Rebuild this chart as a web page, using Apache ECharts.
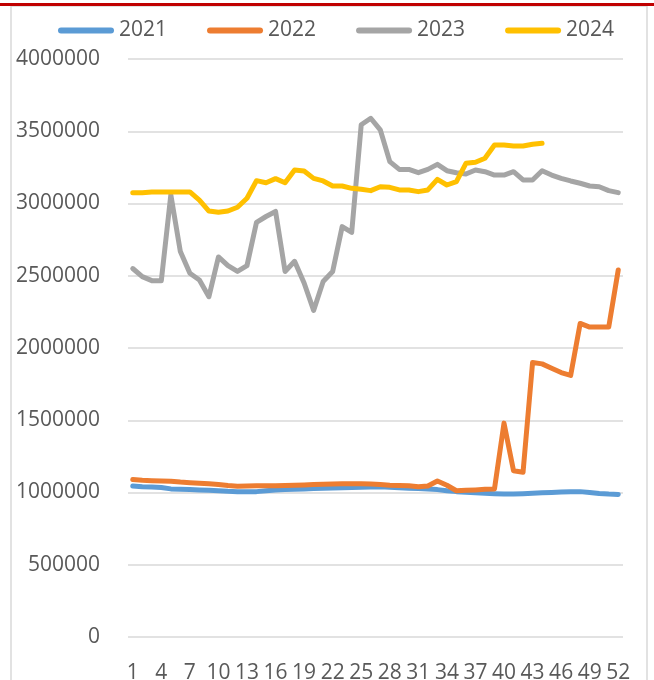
<!DOCTYPE html>
<html>
<head>
<meta charset="utf-8">
<script src="https://cdn.jsdelivr.net/npm/echarts@6/dist/echarts.min.js"></script>
<style>
  html, body { margin: 0; padding: 0; background: #fff; }
  #chart { width: 654px; height: 680px; }
</style>
</head>
<body>
<div id="chart"></div>
<script>
const weeks = ['1', '2', '3', '4', '5', '6', '7', '8', '9', '10', '11', '12', '13',
  '14', '15', '16', '17', '18', '19', '20', '21', '22', '23', '24', '25', '26',
  '27', '28', '29', '30', '31', '32', '33', '34', '35', '36', '37', '38', '39',
  '40', '41', '42', '43', '44', '45', '46', '47', '48', '49', '50', '51', '52']

const y2021 = [1045000, 1040000, 1038000, 1035000, 1025000, 1022000, 1020000, 1017000, 1015000, 1012000,
  1008000, 1006000, 1005000, 1006000, 1012000, 1018000, 1020000, 1022000, 1025000, 1028000,
  1030000, 1031000, 1033000, 1035000, 1037000, 1038000, 1040000, 1037000, 1033000, 1030000,
  1027000, 1024000, 1020000, 1012000, 1006000, 1002000, 998000, 995000, 992000, 990000,
  990000, 992000, 995000, 998000, 1000000, 1003000, 1006000, 1006000, 1000000, 993000,
  989000, 987000]

const y2022 = [1090000, 1085000, 1082000, 1080000, 1078000, 1072000, 1068000, 1064000, 1060000, 1055000,
  1048000, 1043000, 1045000, 1046000, 1046000, 1046000, 1048000, 1050000, 1052000, 1055000,
  1057000, 1058000, 1060000, 1061000, 1060000, 1058000, 1055000, 1050000, 1048000, 1047000,
  1040000, 1045000, 1080000, 1050000, 1012000, 1015000, 1018000, 1022000, 1025000, 1480000,
  1150000, 1140000, 1900000, 1890000, 1860000, 1830000, 1810000, 2170000, 2145000, 2145000,
  2145000, 2540000]

const y2023 = [2550000, 2494000, 2466000, 2466000, 3060000, 2667000, 2517000, 2471000, 2355000, 2630000,
  2570000, 2530000, 2570000, 2870000, 2910000, 2945000, 2530000, 2600000, 2450000, 2260000,
  2460000, 2530000, 2840000, 2800000, 3545000, 3590000, 3510000, 3290000, 3236000, 3236000,
  3213000, 3236000, 3271000, 3227000, 3213000, 3204000, 3232000, 3220000, 3197000, 3197000,
  3220000, 3163000, 3163000, 3227000, 3197000, 3174000, 3156000, 3140000, 3121000, 3116000,
  3089000, 3075000]

const y2024 = [3075000, 3075000, 3080000, 3080000, 3080000, 3080000, 3080000, 3024000, 2948000, 2939000,
  2948000, 2974000, 3036000, 3158000, 3144000, 3172000, 3144000, 3232000, 3225000, 3174000,
  3156000, 3121000, 3121000, 3105000, 3098000, 3089000, 3116000, 3112000, 3094000, 3094000,
  3082000, 3094000, 3167000, 3128000, 3151000, 3278000, 3285000, 3313000, 3405000, 3405000,
  3398000, 3398000, 3410000, 3417000]

const seriesNames = ['2021', '2022', '2023', '2024']
const seriesColors = ['#5b9bd5', '#ed7d31', '#a5a5a5', '#ffc000']
const seriesData = [y2021, y2022, y2023, y2024]

const yTicks = { min: 0, max: 4000000, step: 500000 }

const textColor = '#595959'
const fontFamily = '"Open Sans", sans-serif'

const chart = echarts.init(document.getElementById('chart'), null, { renderer: 'canvas' })

const option = {
  animation: false,
  backgroundColor: '#fff',
  graphic: [
    {
      // 外框
      type: 'rect',
      shape: { x: 11, y: 6, width: 636, height: 700 },
      style: { fill: 'none', stroke: '#d9d9d9', lineWidth: 1.5 },
      z: -1
    },
    {
      // 顶部红线
      type: 'rect',
      shape: { x: 0, y: 3, width: 654, height: 3 },
      style: { fill: '#c00000' }
    }
  ],
  legend: {
    left: 53,
    top: 15,
    itemGap: 40,
    itemWidth: 56,
    itemHeight: 6,
    icon: 'path://M3,0H53A3,3,0,0,1,53,6H3A3,3,0,0,1,3,0Z',
    textStyle: { color: textColor, fontSize: 21, fontFamily: fontFamily },
    data: seriesNames
  },
  grid: {
    left: 128,
    right: 31,
    top: 59,
    bottom: 43,
    outerBoundsMode: 'none'
  },
  xAxis: {
    type: 'category',
    data: weeks,
    boundaryGap: true,
    axisLine: { show: false },
    axisTick: { show: false },
    axisLabel: {
      interval: 2,
      margin: 26,
      color: textColor,
      fontSize: 21,
      fontFamily: fontFamily
    }
  },
  yAxis: {
    type: 'value',
    min: yTicks.min,
    max: yTicks.max,
    interval: yTicks.step,
    axisLine: { show: false },
    axisTick: { show: false },
    axisLabel: {
      margin: 28,
      color: textColor,
      fontSize: 21,
      fontFamily: fontFamily,
      formatter: (v) => String(v)
    },
    splitLine: { lineStyle: { color: '#d9d9d9', width: 1.5 } }
  },
  series: seriesNames.map((name, i) => ({
    name: name,
    type: 'line',
    data: seriesData[i],
    symbol: 'none',
    color: seriesColors[i],
    lineStyle: { width: 5, color: seriesColors[i], cap: 'round', join: 'round' }
  }))
}

chart.setOption(option)
</script>
</body>
</html>
